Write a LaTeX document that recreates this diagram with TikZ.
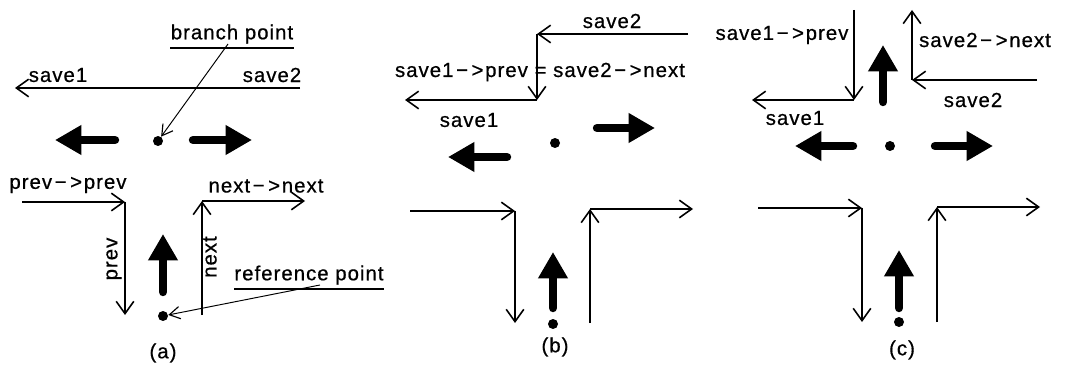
\documentclass[tikz,border=0pt]{standalone}
\usepackage{fontspec}
\setmainfont{Liberation Sans}[LetterSpace=5,FakeBold=0.6]
\usetikzlibrary{arrows.meta}
\newcommand\myarr{\kern1.5pt−\kern2pt>\kern1pt}
\begin{document}
\begin{tikzpicture}[x=0.02cm,y=-0.02cm,
  lab/.style={inner sep=0pt,font=\fontsize{11.6}{13}\selectfont},
  thin/.style={line width=0.95pt,-{Straight Barb[length=7pt,width=10pt,line width=0.9pt]}},
  lead/.style={line width=0.55pt,-{Straight Barb[length=6pt,width=7pt,line width=0.65pt]}},
  thick/.style={line width=4.8pt,line cap=round,-{Triangle[length=15pt,width=16pt]}},
  dotn/.style={circle,fill,inner sep=0pt,minimum size=0.2cm},
  ul/.style={line width=0.9pt}]
\useasboundingbox (0,0) rectangle (1066,368);
% ---------------- (a)
\node[lab] (bp) at (232,34) {branch point};
\draw[ul] ([yshift=-2.2pt]bp.south west) -- ([yshift=-2.2pt]bp.south east);
\coordinate (bpl) at (228,44);
\node[dotn] (da) at (158,141) {};
\draw[lead] (bpl) -- (da);
\coordinate (s2a) at (300,88);
\coordinate (s1a) at (15,88);
\draw[thin] (s2a) -- (s1a);
\node[lab] (sv1a) at (58,75) {save1};
\node[lab] (sv2a) at (272,75) {save2};
\coordinate (la0) at (115,140); \coordinate (la1) at (55,140);
\draw[thick] (la0) -- (la1);
\coordinate (ra0) at (193,140); \coordinate (ra1) at (252,140);
\draw[thick] (ra0) -- (ra1);
\node[lab] (ppa) at (68,185) {prev\myarr prev};
\coordinate (pa0) at (22,202); \coordinate (pa1) at (125,202); \coordinate (pa2) at (125,315);
\draw[thin] (pa0) -- (pa1);
\draw[thin] (pa1) -- (pa2);
\node[lab,rotate=90] (pva) at (114,259) {prev};
\coordinate (ua0) at (163,292); \coordinate (ua1) at (163,234);
\draw[thick] (ua0) -- (ua1);
\node[dotn] (ra) at (163,316) {};
\coordinate (na0) at (202,315); \coordinate (na1) at (202,201); \coordinate (na2) at (305,201);
\draw[thin] (na0) -- (na1);
\draw[thin] (na1) -- (na2);
\node[lab] (nna) at (266,186) {next\myarr next};
\node[lab,rotate=90] (nxa) at (210,257) {next};
\node[lab] (rp) at (309,275) {reference point};
\draw[ul] ([yshift=-2.2pt]rp.south west) -- ([yshift=-2.2pt]rp.south east);
\coordinate (rpl) at (320,285);
\draw[lead] (rpl) -- (ra);
\node[lab] (capa) at (163,353) {(a)};
% ---------------- (b)
\node[lab] (sv2b) at (612,21) {save2};
\coordinate (b0) at (688,34); \coordinate (b1) at (537,34);
\coordinate (b2) at (537,100); \coordinate (b3) at (405,100);
\draw[thin] (b0) -- (b1);
\draw[thin] (b1) -- (b2);
\draw[thin] (b2) -- (b3);
\node[lab] (eqb) at (540,72) {save1\myarr prev = save2\myarr next};
\node[lab] (sv1b) at (469,120) {save1};
\coordinate (rb0) at (597,128); \coordinate (rb1) at (655,128);
\draw[thick] (rb0) -- (rb1);
\node[dotn] (db) at (555,143) {};
\coordinate (lb0) at (507,157); \coordinate (lb1) at (448,157);
\draw[thick] (lb0) -- (lb1);
\coordinate (pb0) at (410,211); \coordinate (pb1) at (515,211); \coordinate (pb2) at (515,323);
\draw[thin] (pb0) -- (pb1);
\draw[thin] (pb1) -- (pb2);
\coordinate (ub0) at (553,308); \coordinate (ub1) at (553,252);
\draw[thick] (ub0) -- (ub1);
\node[dotn] (rfb) at (553,324) {};
\coordinate (nb0) at (590,323); \coordinate (nb1) at (590,209); \coordinate (nb2) at (693,209);
\draw[thin] (nb0) -- (nb1);
\draw[thin] (nb1) -- (nb2);
\node[lab] (capb) at (555,347) {(b)};
% ---------------- (c)
\coordinate (c0) at (854,10); \coordinate (c1) at (854,100); \coordinate (c2) at (752,100);
\draw[thin] (c0) -- (c1);
\draw[thin] (c1) -- (c2);
\node[lab] (spc) at (782,35) {save1\myarr prev};
\node[lab] (sv1c) at (795,118) {save1};
\coordinate (uc0) at (883,102); \coordinate (uc1) at (883,45);
\draw[thick] (uc0) -- (uc1);
\coordinate (c3) at (1037,80); \coordinate (c4) at (912,80); \coordinate (c5) at (912,10);
\draw[thin] (c3) -- (c4);
\draw[thin] (c4) -- (c5);
\node[lab] (snc) at (985,40) {save2\myarr next};
\node[lab] (sv2c) at (973,100) {save2};
\coordinate (lc0) at (853,146); \coordinate (lc1) at (795,146);
\draw[thick] (lc0) -- (lc1);
\coordinate (rc0) at (935,146); \coordinate (rc1) at (993,146);
\draw[thick] (rc0) -- (rc1);
\node[dotn] (dc) at (890,146) {};
\coordinate (pc0) at (758,208); \coordinate (pc1) at (862,208); \coordinate (pc2) at (862,322);
\draw[thin] (pc0) -- (pc1);
\draw[thin] (pc1) -- (pc2);
\coordinate (uc2) at (899,308); \coordinate (uc3) at (899,250);
\draw[thick] (uc2) -- (uc3);
\node[dotn] (rfc) at (899,322) {};
\coordinate (nc0) at (937,322); \coordinate (nc1) at (937,207); \coordinate (nc2) at (1040,207);
\draw[thin] (nc0) -- (nc1);
\draw[thin] (nc1) -- (nc2);
\node[lab] (capc) at (902,350) {(c)};
\end{tikzpicture}
\end{document}
